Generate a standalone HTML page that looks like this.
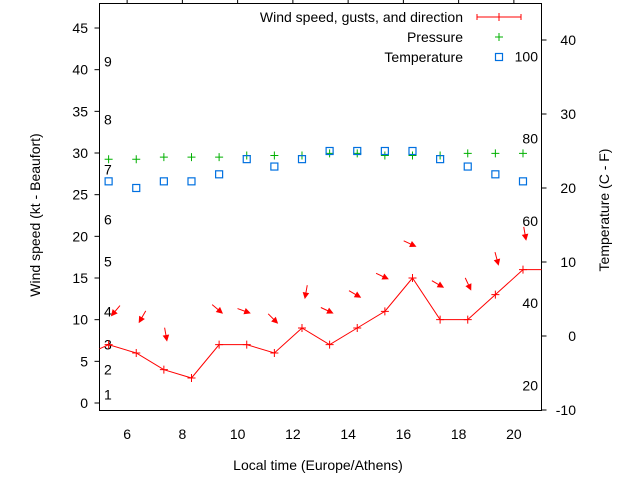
<!DOCTYPE html>
<html><head><meta charset="utf-8"><style>
body{margin:0;background:#fff}
svg text{font-family:"Liberation Sans",sans-serif;font-size:14px;fill:#000}
</style></head><body>
<svg id="chart" width="640" height="480" xmlns="http://www.w3.org/2000/svg"></svg>
<script>
const times=[5.33,6.33,7.33,8.33,9.33,10.33,11.33,12.33,13.33,14.33,15.33,16.33,17.33,18.33,19.33,20.33];
const windSpeed=[7,6,4,3,7,7,6,9,7,9,11,15,10,10,13,16];
const gusts=[10.5,9.7,7.5,null,10.8,10.8,9.6,12.6,10.8,12.7,14.9,18.8,13.9,13.6,16.6,19.6];
const windFrom=[40,30,350,null,310,290,315,10,295,300,295,295,300,335,345,350];
const pressure=[29.25,29.25,29.5,29.5,29.5,29.7,29.7,29.7,29.95,29.95,29.7,29.7,29.7,29.95,29.95,29.95];
const temperature=[20.9,20,20.9,20.9,21.85,23.9,22.9,23.9,25,25,25,25,23.9,22.9,21.85,20.9];
const xTicks=[6,8,10,12,14,16,18,20];
const yTicks=[0,5,10,15,20,25,30,35,40,45];
const y2Ticks=[-10,0,10,20,30,40];
const beaufortKt=[1,4,7,11,17,22,28,34,41];
const fahrenheit=[20,40,60,80,100];

const L=99.5,R=541.5,T=3.5,B=410.5;
const X=v=>L+(v-5)/(21-5)*(R-L);
const Y=v=>403-v*8.333;
const Y2=v=>336-v*7.4;
const svg=document.getElementById('chart');
const NS='http://www.w3.org/2000/svg';
function mk(tag,attrs,parent){const e=document.createElementNS(NS,tag);for(const k in attrs)e.setAttribute(k,attrs[k]);(parent||svg).appendChild(e);return e;}

// frame
let f=mk('rect',{x:L,y:T,width:R-L,height:B-T,fill:'none',stroke:'#000','stroke-width':1});



xTicks.forEach(v=>{
 let t=mk('line',{x1:X(v),x2:X(v),y1:T,y2:T-5,stroke:'#000'});
 
 
 let l=mk('text',{x:X(v),y:439,'text-anchor':'middle'});l.textContent=v;
 
 
});
yTicks.forEach(v=>{
 let t=mk('line',{x1:L,x2:L-5,y1:Y(v),y2:Y(v),stroke:'#000'});
 
 
 let l=mk('text',{x:88,y:Y(v)+5,'text-anchor':'end'});l.textContent=v;
 
 
});
y2Ticks.forEach(v=>{
 let t=mk('line',{x1:R,x2:R+5,y1:Y2(v),y2:Y2(v),stroke:'#000'});
 
 
 let l=mk('text',{x:576,y:Y2(v)+5,'text-anchor':'end'});l.textContent=v;
 
 
});
beaufortKt.forEach((v,i)=>{
 let l=mk('text',{x:104,y:Y(v)+5});l.textContent=i+1;
 
 
});
fahrenheit.forEach(v=>{
 let l=mk('text',{x:538,y:Y2((v-32)*5/9)+5,'text-anchor':'end'});l.textContent=v;
 
 
});

// axis titles
let a=mk('text',{x:318,y:470,'text-anchor':'middle'});a.textContent='Local time (Europe/Athens)';


a=mk('text',{x:0,y:0,'text-anchor':'middle',transform:'translate(40,215) rotate(-90)'});a.textContent='Wind speed (kt - Beaufort)';


a=mk('text',{x:0,y:0,'text-anchor':'middle',transform:'translate(609,210) rotate(-90)'});a.textContent='Temperature (C - F)';



function plus(x,y,c,name){let g=mk('path',{d:`M${x-4},${y}h8M${x},${y-4}v8`,stroke:c,'stroke-width':1});
 
 }
function sq(x,y,name){let r=mk('rect',{x:x-3.5,y:y-3.5,width:7,height:7,fill:'none',stroke:'#0070e0','stroke-width':1.2});
 
 }

// wind line
let pts=[[L,Y(6.5)]].concat(times.map((t,i)=>[X(t),Y(windSpeed[i])])).concat([[R,Y(windSpeed[windSpeed.length-1])]]);
let wl=mk('polyline',{points:pts.map(p=>p.join(',')).join(' '),fill:'none',stroke:'#f00','stroke-width':1});


times.forEach((t,i)=>plus(X(t),Y(windSpeed[i]),'#f00','wind-speed-point'));

// arrows
times.forEach((t,i)=>{
 if(gusts[i]==null)return;
 const hx=X(t)+3,hy=Y(gusts[i]);
 const r=windFrom[i]*Math.PI/180;
 const dx=Math.sin(r),dy=-Math.cos(r);
 const tx=hx+dx*13,ty=hy+dy*13;
 const px=-dy,py=dx;
 let g=mk('path',{d:`M${tx},${ty}L${hx},${hy}M${hx},${hy}L${hx+dx*5+px*2.5},${hy+dy*5+py*2.5}L${hx+dx*5-px*2.5},${hy+dy*5-py*2.5}Z`,stroke:'#f00',fill:'#f00','stroke-width':1});
 
 
});

times.forEach((t,i)=>plus(X(t),Y(pressure[i]),'#00b000','pressure-point'));
times.forEach((t,i)=>sq(X(t),Y2(temperature[i]),'temperature-point'));

// legend
const lg=[['Wind speed, gusts, and direction',22],['Pressure',42],['Temperature',62]];
lg.forEach(([s,y],i)=>{let l=mk('text',{x:463,y:y,'text-anchor':'end'});l.textContent=s;
 
 });
let k=mk('path',{d:'M477,17h44M477,14v6M521,14v6',stroke:'#f00'});


plus(499,17,'#f00','legend-wind-marker');
plus(499,37,'#00b000','legend-pressure-key');
sq(499,57,'legend-temperature-key');
</script>
</body></html>
